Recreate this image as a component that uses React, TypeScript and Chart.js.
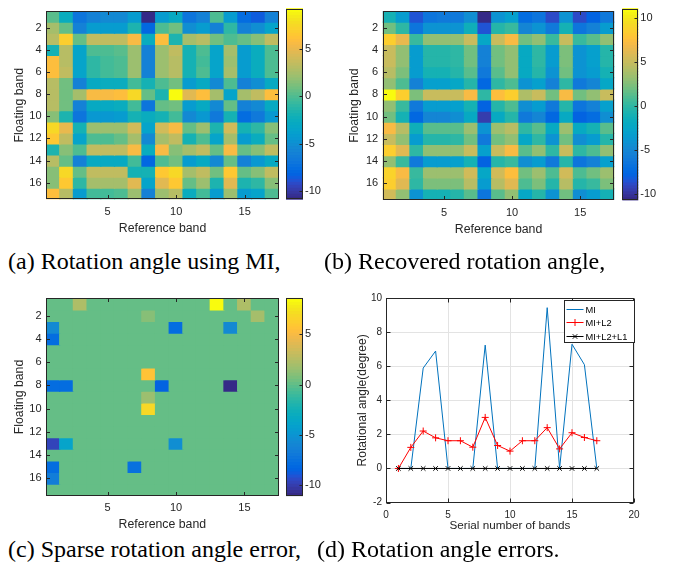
import React, { useEffect, useRef } from 'react';
import { Chart, registerables } from 'chart.js';

Chart.register(...registerables);

// ---------------- data ----------------
const BANDS = [1, 2, 3, 4, 5, 6, 7, 8, 9, 10, 11, 12, 13, 14, 15, 16, 17];
const HEAT_X_TICKS = [5, 10, 15];
const HEAT_Y_TICKS = [2, 4, 6, 8, 10, 12, 14, 16];

const CLIM_A = [-10.87, 9.2];
const CLIM_B = [-10.74, 11.07];
const CLIM_C = [-11.06, 8.58];
const CB_TICKS_A = [-10, -5, 0, 5];
const CB_TICKS_B = [-10, -5, 0, 5, 10];
const CB_TICKS_C = [-10, -5, 0, 5];

// (a) rotation angle using MI  (rows = floating band, cols = reference band)
const MI_ANGLE = [
  [0.4, -2.6, -7, -6, -5.5, -5.5, -4, -10.8, -4, -3, -7, -6, 0, -4, -7.5, -8.5, -6],
  [2.5, 0.5, -6, -4, -4, -4, -1.5, -8, 0, 1, -5, -4, -6, -1, -6, -5, -3.5],
  [3, 7, 0.5, 3.5, 3.5, 3.5, 5.5, -2.5, 6, -1.5, 2.5, 3, 1, 0, 0.5, 1.5, 3.5],
  [-2, 3, -3.5, 0, 0, 0.2, 2, -6, 2, 3.5, -2, 0, -3.5, 2.5, -4, -2.5, 0],
  [6, 3, -3.5, -1, -0.5, 0, 2, -6, 2, 3, -2, -0.5, -3.5, 2, -4, -2.5, 0],
  [6, 3.5, -3.5, -1, -0.5, 0, 2, -6, 2, 3, -2, 0, -3.5, 2.5, -4, -2.5, 0],
  [3, 1, -6, -3, -2.5, -2.5, -0.5, -2, 0, 1, -4, -3, -5.5, 0, -6, -5, -3],
  [3, 1, 2.5, 5.5, 5.5, 6, 7.5, 0.5, -1.5, 9.2, 4.5, 6, 2.5, -3.5, 2.5, 3.5, 6],
  [3, 1, -6, -3, -3, -2.5, -0.5, -7, 0.5, 1, -4, -3, -5.5, 0.5, -6, -5.5, -3],
  [1.5, -1.5, -7, -4.5, -4.5, -4, -2, -2.5, -2, -0.5, -5.5, -4.5, -6.5, -2, -7.5, -6.5, -4.5],
  [7.5, 5, -2, 2, 2, 2, 4, -3.5, 4, 5.5, 0.5, 2, -1.5, 4, -2, -1, 1.5],
  [6.5, 3.5, -3.5, 0, 0, 0.5, 2.5, -5.5, 2.5, 3.5, -2, 0, -3.5, 2.5, -4, -2.5, 0.5],
  [-1.5, 1.5, 0, 3.5, 3.5, 3.5, 5.5, -2.5, 5.5, 1.5, 2.5, 3.5, 0.5, 5.5, 0.5, 1.5, 3.5],
  [3, 0.5, -6, -3, -3, -3, -0.5, -8, 0, 1, -4, -3, -5.5, 0.5, -6, -4.5, -3],
  [1.5, 7.5, 0.5, 3.5, 3.5, 3.5, -2, -2, 6.5, 7.5, 2.5, 3.5, 1, 6.5, 0.5, 1.5, 3.5],
  [1.5, 6.5, -1, 2.5, 2.5, 2.5, 4.5, -3.5, 4.5, 6.5, 0.5, 2, -1.5, 4.5, -1.5, -1, 1.5],
  [6, 3, -4, -0.5, -0.5, 0, 2, -6, 2, 3, -2.5, -0.5, -4, 2, -4, -3.5, 0],
];

// (b) recovered rotation angle
const RECOVERED_ANGLE = [
  [-1, -3.5, -8.5, -6.5, -6, -6, -4.5, -10.8, -4, -3, -7, -6.5, -9, -4, -9, -8, -6],
  [2, 0, -6.5, -4, -4, -4, -1.5, -8.5, -0.5, 0.5, -5, -4, -6, -1, -6.5, -5.5, -3.5],
  [8.5, 6.5, 0.5, 3, 3, 3, 5, -2.5, 5, 7, 2, 3, 0.5, 5, 0.5, 1.5, 3],
  [5, 3, -3.5, -0.5, -0.5, 0, 2, -5.5, 2, 3, -2, 0, -3.5, 2.5, -4, -3, -0.5],
  [5, 3, -3.5, -0.5, -0.5, 0, 2, -5.5, 2, 3, -2, 0, -3.5, 2.5, -4, -3, -0.5],
  [4.5, 2.5, -3.5, -1, -1, -0.5, 1.5, -6, 1.5, 3, -2, -0.5, -4, 2, -4, -3.5, -1],
  [3, 1, -5.5, -3, -3, -2.5, -0.5, -7.5, 0, 1, -4, -3, -5.5, 0, -6, -5, -2.5],
  [11, 8.5, 2.5, 5, 5, 5, 7, 0, 7.5, 8.5, 4, 5, 2, 7, 2, 3, 5],
  [3, 0.5, -6, -3.5, -3.5, -3, -1, -8, -0.5, 1, -4.5, -3.5, -6, -0.5, -6.5, -5.5, -3],
  [2, -1, -7.5, -5, -5, -4.5, -2, -9.5, -2, -0.5, -6, -5, -7.5, -2, -8, -7, -4.5],
  [7, 4.5, -1.5, 1.5, 1.5, 1.5, 3.5, -4, 3.5, 4.5, 0, 1.5, -2, 3.5, -2, -1, 1.5],
  [5, 3, -3.5, -0.5, -0.5, 0, 2, -6, 2, 3, -2.5, 0, -4, 2, -4.5, -3.5, -0.5],
  [8.5, 6, 0, 3, 3, 3, 5, -3, 5, 7, 1.5, 3, 0, 5, 0, 1, 3],
  [3, 0.5, -6, -3.5, -3.5, -3, -1, -8, -0.5, 0.5, -4.5, -3.5, -6, -0.5, -6.5, -5.5, -3],
  [9, 7, 0.5, 3.5, 3.5, 3.5, 5.5, -2.5, 5.5, 7.5, 2, 3.5, 1, 5.5, 1, 2, 3.5],
  [8.5, 6, 0, 2.5, 2.5, 2.5, 4.5, -3.5, 4.5, 6, 1, 2.5, -0.5, 4.5, -0.5, 0.5, 2.5],
  [5.5, 3, -4, -1, -1, -0.5, 1.5, -6.5, 1.5, 3, -2.5, -0.5, -4, 2, -4.5, -3.5, -1],
];

// (c) sparse rotation angle error
const SPARSE_ERROR = [
  [0, 0, 2.3, 0, 0, 0, 0, 0, 0, 0, 0, 0, 8.5, 0, 2.3, 0, 0],
  [0, 0, 0, 0, 0, 0, 0, 1.2, 0, 0, 0, 0, 0, 0, 0, 2, 0],
  [-5.8, 0, 0, 0, 0, 0, 0, 0, 0, -7.9, 0, 0, 0, -5.6, 0, 0, 0],
  [-7.8, 0, 0, 0, 0, 0, 0, 0, 0, 0, 0, 0, 0, 0, 0, 0, 0],
  [0, 0, 0, 0, 0, 0, 0, 0, 0, 0, 0, 0, 0, 0, 0, 0, 0],
  [0, 0, 0, 0, 0, 0, 0, 0, 0, 0, 0, 0, 0, 0, 0, 0, 0],
  [0, 0, 0, 0, 0, 0, 0, 5.6, 0, 0, 0, 0, 0, 0, 0, 0, 0],
  [-7.8, -7.8, 0, 0, 0, 0, 0, 0, -8.3, 0, 0, 0, 0, -11, 0, 0, 0],
  [0, 0, 0, 0, 0, 0, 0, 1.8, 0, 0, 0, 0, 0, 0, 0, 0, 0],
  [0, 0, 0, 0, 0, 0, 0, 7, 0, 0, 0, 0, 0, 0, 0, 0, 0],
  [0, 0, 0, 0, 0, 0, 0, 0, 0, 0, 0, 0, 0, 0, 0, 0, 0],
  [0, 0, 0, 0, 0, 0, 0, 0, 0, 0, 0, 0, 0, 0, 0, 0, 0],
  [-9.8, -3.7, 0, 0, 0, 0, 0, 0, 0, -5.5, 0, 0, 0, 0, 0, 0, 0],
  [0, 0, 0, 0, 0, 0, 0, 0, 0, 0, 0, 0, 0, 0, 0, 0, 0],
  [-7.8, 0, 0, 0, 0, 0, -7.5, 0, 0, 0, 0, 0, 0, 0, 0, 0, 0],
  [-6.5, 0, 0, 0, 0, 0, 0, 0, 0, 0, 0, 0, 0, 0, 0, 0, 0],
  [0, 0, 0, 0, 0, 0, 0, 0, 0, 0, 0, 0, 0, 0, 0, 0, 0],
];

// (d) rotation angle errors
const SERIAL = [1, 2, 3, 4, 5, 6, 7, 8, 9, 10, 11, 12, 13, 14, 15, 16, 17];
const ERR_MI = [0, 0, 5.9, 6.9, 0, 0, 0, 7.25, 0, 0, 0, 0, 9.45, 0, 7.3, 6.1, 0];
const ERR_MI_L2 = [0, 1.24, 2.2, 1.8, 1.63, 1.63, 1.25, 3.0, 1.35, 1.02, 1.63, 1.63, 2.4, 1.15, 2.1, 1.82, 1.63];
const ERR_MI_L2_L1 = [0, 0, 0, 0, 0, 0, 0, 0, 0, 0, 0, 0, 0, 0, 0, 0, 0];
const D_X_TICKS = [0, 5, 10, 15, 20];
const D_Y_TICKS = [-2, 0, 2, 4, 6, 8, 10];

// ---------------- styles ----------------
const SANS = '"Liberation Sans", Arial, Helvetica, sans-serif';
const SERIF = '"Liberation Serif", "Times New Roman", Times, serif';
const INK = '#262626';

const PARULA = [
  [0.2081, 0.1663, 0.5292], [0.2116, 0.1898, 0.5777], [0.2123, 0.2138, 0.627], [0.2081, 0.2386, 0.6771],
  [0.1959, 0.2645, 0.7279], [0.1707, 0.2919, 0.7792], [0.1253, 0.3242, 0.8303], [0.0591, 0.3598, 0.8683],
  [0.0117, 0.3875, 0.882], [0.006, 0.4086, 0.8828], [0.0165, 0.4266, 0.8786], [0.0329, 0.443, 0.872],
  [0.0498, 0.4586, 0.8641], [0.0629, 0.4737, 0.8554], [0.0723, 0.4887, 0.8467], [0.0779, 0.504, 0.8384],
  [0.0793, 0.52, 0.8312], [0.0749, 0.5375, 0.8263], [0.0641, 0.557, 0.824], [0.0488, 0.5772, 0.8228],
  [0.0343, 0.5966, 0.8199], [0.0265, 0.6137, 0.8135], [0.0239, 0.6287, 0.8038], [0.0231, 0.6418, 0.7913],
  [0.0228, 0.6535, 0.7768], [0.0267, 0.6642, 0.7607], [0.0384, 0.6743, 0.7436], [0.059, 0.6838, 0.7254],
  [0.0843, 0.6928, 0.7062], [0.1133, 0.7015, 0.6859], [0.1453, 0.7098, 0.6646], [0.1801, 0.7177, 0.6424],
  [0.2178, 0.725, 0.6193], [0.2586, 0.7317, 0.5954], [0.3022, 0.7376, 0.5712], [0.3482, 0.7424, 0.5473],
  [0.3953, 0.7459, 0.5244], [0.442, 0.7481, 0.5033], [0.4871, 0.7491, 0.484], [0.53, 0.7491, 0.4661],
  [0.5709, 0.7485, 0.4494], [0.6099, 0.7473, 0.4337], [0.6473, 0.7456, 0.4188], [0.6834, 0.7435, 0.4044],
  [0.7184, 0.7411, 0.3905], [0.7525, 0.7384, 0.3768], [0.7858, 0.7356, 0.3633], [0.8185, 0.7327, 0.3498],
  [0.8507, 0.7299, 0.336], [0.8824, 0.7274, 0.3217], [0.9139, 0.7258, 0.3063], [0.945, 0.7261, 0.2886],
  [0.9739, 0.7314, 0.2666], [0.9938, 0.7455, 0.2403], [0.999, 0.7653, 0.2164], [0.9955, 0.7861, 0.1967],
  [0.988, 0.8066, 0.1794], [0.9789, 0.8271, 0.1633], [0.9697, 0.8481, 0.1475], [0.9626, 0.8705, 0.1309],
  [0.9589, 0.8949, 0.1132], [0.9598, 0.9218, 0.0948], [0.9661, 0.9514, 0.0755], [0.9763, 0.9831, 0.0538],
];

function rgbOf(c: number[]) {
  return `rgb(${Math.round(c[0] * 255)},${Math.round(c[1] * 255)},${Math.round(c[2] * 255)})`;
}
function parulaColor(v: number, lo: number, hi: number) {
  const n = PARULA.length;
  let i = Math.floor(((v - lo) / (hi - lo)) * n);
  if (i < 0) i = 0;
  if (i > n - 1) i = n - 1;
  return rgbOf(PARULA[i]);
}

// ---------------- plugins ----------------
const framePlugin = {
  id: 'frame',
  afterDraw(chart: any, _a: any, opts: any) {
    const { ctx, chartArea: a } = chart;
    const L = opts.len || 3;
    const l = Math.round(a.left) + 0.5, r = Math.round(a.right) - 0.5;
    const t = Math.round(a.top) + 0.5, b = Math.round(a.bottom) - 0.5;
    ctx.save();
    ctx.strokeStyle = INK;
    ctx.lineWidth = 1;
    ctx.beginPath();
    const xs = chart.scales.x;
    if (opts.xTicks && xs) {
      for (const tk of xs.ticks) {
        const p = Math.round(xs.getPixelForValue(tk.value)) + 0.5;
        ctx.moveTo(p, b); ctx.lineTo(p, b - L);
        ctx.moveTo(p, t); ctx.lineTo(p, t + L);
      }
    }
    const ys = chart.scales.y;
    if (opts.yTicks && ys) {
      for (const tk of ys.ticks) {
        const p = Math.round(ys.getPixelForValue(tk.value)) + 0.5;
        if (!opts.rightOnly) { ctx.moveTo(l, p); ctx.lineTo(l + L, p); }
        ctx.moveTo(r, p); ctx.lineTo(r - L, p);
      }
    }
    ctx.stroke();
    ctx.strokeRect(l, t, r - l, b - t);
    ctx.restore();
  },
};

const colorbarPlugin = {
  id: 'colorbar',
  beforeDatasetsDraw(chart: any, _a: any, opts: any) {
    const { ctx, chartArea: a } = chart;
    const ys = chart.scales.y;
    const lo = opts.lo, hi = opts.hi;
    const n = PARULA.length;
    ctx.save();
    for (let k = 0; k < n; k++) {
      const p0 = ys.getPixelForValue(lo + ((hi - lo) * k) / n);
      const p1 = ys.getPixelForValue(lo + ((hi - lo) * (k + 1)) / n);
      ctx.fillStyle = rgbOf(PARULA[k]);
      ctx.fillRect(a.left, Math.min(p0, p1) - 0.4, a.right - a.left, Math.abs(p1 - p0) + 0.8);
    }
    ctx.restore();
  },
};

function drawMarker(ctx: any, style: string, x: number, y: number, r: number) {
  ctx.beginPath();
  if (style === 'cross') {
    ctx.moveTo(x - r, y); ctx.lineTo(x + r, y);
    ctx.moveTo(x, y - r); ctx.lineTo(x, y + r);
  } else {
    const d = r * Math.SQRT1_2;
    ctx.moveTo(x - d, y - d); ctx.lineTo(x + d, y + d);
    ctx.moveTo(x - d, y + d); ctx.lineTo(x + d, y - d);
  }
  ctx.stroke();
}

const boxLegendPlugin = {
  id: 'boxLegend',
  afterDraw(chart: any, _a: any, opts: any) {
    const { ctx, chartArea: a } = chart;
    const w = opts.width, h = opts.height;
    const x0 = Math.round(a.right - w) + 0.5;
    const y0 = Math.round(a.top + opts.dy) + 0.5;
    ctx.save();
    ctx.fillStyle = '#ffffff';
    ctx.fillRect(x0, y0, w, h);
    ctx.strokeStyle = INK;
    ctx.lineWidth = 1;
    ctx.strokeRect(x0, y0, w, h);
    ctx.font = `${opts.fontSize}px ${SANS}`;
    ctx.textBaseline = 'middle';
    ctx.textAlign = 'left';
    chart.data.datasets.forEach((ds: any, i: number) => {
      const cy = Math.round(y0 + opts.rowStart + i * opts.rowGap) + 0.5;
      const lx0 = x0 + 2, lx1 = lx0 + 17;
      ctx.strokeStyle = ds.borderColor;
      ctx.lineWidth = 1;
      ctx.beginPath(); ctx.moveTo(lx0, cy); ctx.lineTo(lx1, cy); ctx.stroke();
      if (ds.pointRadius > 0) drawMarker(ctx, ds.pointStyle, (lx0 + lx1) / 2, cy, ds.pointRadius);
      ctx.fillStyle = '#000000';
      ctx.fillText(ds.label, lx1 + 2, cy + 0.5);
    });
    ctx.restore();
  },
};

// ---------------- chart configs ----------------
type Rect = { x: number; y: number; w: number; h: number };
type Area = { l: number; r: number; t: number; b: number };

function heatmapConfig(matrix: number[][], clim: number[], rect: Rect, area: Area, tune: any) {
  const datasets = matrix.map((row, ri) => ({
    data: row.map((_v, ci) => ({ x: BANDS[ci], y: [BANDS[ri] - 0.5, BANDS[ri] + 0.5] })),
    backgroundColor: row.map((v) => parulaColor(v, clim[0], clim[1])),
    borderWidth: 0,
    grouped: false,
    barPercentage: 1,
    categoryPercentage: 1,
    inflateAmount: 0.6,
  }));
  return {
    type: 'bar',
    data: { datasets },
    plugins: [framePlugin],
    options: {
      responsive: false,
      animation: false,
      events: [],
      layout: { padding: { left: 0, top: area.t, right: rect.w - area.r, bottom: 0 } },
      plugins: {
        legend: { display: false },
        tooltip: { enabled: false },
        frame: { xTicks: true, yTicks: true, len: 3.5 },
      },
      scales: {
        x: {
          type: 'linear', min: 0.5, max: 17.5, offset: false,
          grid: { display: false, drawTicks: false },
          border: { display: false },
          afterBuildTicks: (s: any) => { s.ticks = HEAT_X_TICKS.map((value) => ({ value })); },
          afterFit: (s: any) => { s.height = rect.h - area.b; },
          ticks: { autoSkip: false, maxRotation: 0, padding: tune.xTickPad, color: INK, font: { family: SANS, size: 11 } },
          title: { display: true, text: 'Reference band', color: INK, font: { family: SANS, size: 12.3 }, padding: { top: 0, bottom: tune.xTitlePad } },
        },
        y: {
          type: 'linear', reverse: true, min: 0.5, max: 17.5, offset: false, beginAtZero: false,
          grid: { display: false, drawTicks: false },
          border: { display: false },
          afterBuildTicks: (s: any) => { s.ticks = HEAT_Y_TICKS.map((value) => ({ value })); },
          afterFit: (s: any) => { s.width = area.l; },
          ticks: { autoSkip: false, padding: 4.5, color: INK, font: { family: SANS, size: 11 } },
          title: { display: true, text: 'Floating band', color: INK, font: { family: SANS, size: 12.3 }, padding: { top: 12.6, bottom: 0 } },
        },
      },
    },
  };
}

function colorbarConfig(clim: number[], ticks: number[], rect: Rect, area: Area) {
  return {
    type: 'scatter',
    data: { datasets: [] },
    plugins: [colorbarPlugin, framePlugin],
    options: {
      responsive: false,
      animation: false,
      events: [],
      layout: { padding: { left: area.l, top: area.t, right: 0, bottom: rect.h - area.b } },
      plugins: {
        legend: { display: false },
        tooltip: { enabled: false },
        colorbar: { lo: clim[0], hi: clim[1] },
        frame: { xTicks: false, yTicks: true, rightOnly: true, len: 3 },
      },
      scales: {
        x: { type: 'linear', display: false, min: 0, max: 1 },
        y: {
          type: 'linear', position: 'right', min: clim[0], max: clim[1], beginAtZero: false,
          grid: { display: false, drawTicks: false },
          border: { display: false },
          afterBuildTicks: (s: any) => { s.ticks = ticks.map((value) => ({ value })); },
          afterFit: (s: any) => { s.width = rect.w - area.r; },
          ticks: { autoSkip: false, padding: 2, color: INK, font: { family: SANS, size: 11 } },
        },
      },
    },
  };
}

function errorsConfig(rect: Rect, area: Area) {
  const pts = (ys: number[]) => SERIAL.map((x, i) => ({ x, y: ys[i] }));
  return {
    type: 'line',
    data: {
      datasets: [
        { label: 'MI', data: pts(ERR_MI), borderColor: '#0072BD', borderWidth: 1, pointRadius: 0, pointStyle: 'circle', tension: 0, order: 2 },
        { label: 'MI+L2', data: pts(ERR_MI_L2), borderColor: '#FF0000', borderWidth: 1, pointRadius: 3.5, pointStyle: 'cross', pointBorderColor: '#FF0000', pointBorderWidth: 1, tension: 0, order: 1 },
        { label: 'MI+L2+L1', data: pts(ERR_MI_L2_L1), borderColor: '#000000', borderWidth: 1, pointRadius: 3.2, pointStyle: 'crossRot', pointBorderColor: '#000000', pointBorderWidth: 1, tension: 0, order: 0 },
      ],
    },
    plugins: [framePlugin, boxLegendPlugin],
    options: {
      responsive: false,
      animation: false,
      events: [],
      layout: { padding: { left: 0, top: area.t, right: rect.w - area.r, bottom: 0 } },
      plugins: {
        legend: { display: false },
        tooltip: { enabled: false },
        frame: { xTicks: true, yTicks: true, len: 4 },
        boxLegend: { width: 70, height: 42, dy: 2, rowStart: 8, rowGap: 13.5, fontSize: 9.3 },
      },
      scales: {
        x: {
          type: 'linear', min: 0, max: 20,
          grid: { color: '#e3e3e3', drawTicks: false },
          border: { display: false },
          afterBuildTicks: (s: any) => { s.ticks = D_X_TICKS.map((value) => ({ value })); },
          afterFit: (s: any) => { s.height = rect.h - area.b; },
          ticks: { autoSkip: false, maxRotation: 0, padding: 6.5, color: INK, font: { family: SANS, size: 10 } },
          title: { display: true, text: 'Serial number of bands', color: INK, font: { family: SANS, size: 11.7 }, padding: { top: 0, bottom: 2.5 } },
        },
        y: {
          type: 'linear', min: -2, max: 10, beginAtZero: false,
          grid: { color: '#e3e3e3', drawTicks: false },
          border: { display: false },
          afterBuildTicks: (s: any) => { s.ticks = D_Y_TICKS.map((value) => ({ value })); },
          afterFit: (s: any) => { s.width = area.l; },
          ticks: { autoSkip: false, padding: 4, color: INK, font: { family: SANS, size: 10 } },
          title: { display: true, text: 'Rotational angle(degree)', color: INK, font: { family: SANS, size: 12 }, padding: { top: 20.8, bottom: 0 } },
        },
      },
    },
  };
}

// ---------------- components ----------------
function ChartBox({ rect, make }: { rect: Rect; make: () => any }) {
  const ref = useRef<HTMLCanvasElement>(null);
  useEffect(() => {
    const chart = new Chart(ref.current as HTMLCanvasElement, make());
    return () => chart.destroy();
  }, []);
  return (
    <canvas
      ref={ref}
      width={rect.w}
      height={rect.h}
      style={{ position: 'absolute', left: rect.x, top: rect.y, width: rect.w, height: rect.h }}
    />
  );
}

function Caption({ x, y, text }: { x: number; y: number; text: string }) {
  return (
    <div
      style={{
        position: 'absolute', left: x, top: y, fontFamily: SERIF, fontSize: 24,
        lineHeight: '24px', whiteSpace: 'nowrap', color: '#000',
      }}
    >
      {text}
    </div>
  );
}

const RECT_A: Rect = { x: 0, y: 0, w: 285, h: 240 };
const AREA_A: Area = { l: 46, r: 279, t: 2, b: 199.3 };
const RECT_CB_A: Rect = { x: 280, y: 0, w: 55, h: 240 };
const AREA_CB_A: Area = { l: 6, r: 23, t: 2, b: 199.3 };

const RECT_B: Rect = { x: 335, y: 0, w: 285, h: 240 };
const AREA_B: Area = { l: 47.7, r: 279.3, t: 2, b: 200 };
const RECT_CB_B: Rect = { x: 615, y: 0, w: 60, h: 240 };
const AREA_CB_B: Area = { l: 7.3, r: 23.3, t: 2, b: 200 };

const RECT_C: Rect = { x: 0, y: 285, w: 285, h: 250 };
const AREA_C: Area = { l: 46, r: 278.7, t: 13.3, b: 210.7 };
const RECT_CB_C: Rect = { x: 280, y: 285, w: 55, h: 250 };
const AREA_CB_C: Area = { l: 6, r: 23, t: 13.3, b: 210.7 };

const RECT_D: Rect = { x: 335, y: 285, w: 340, h: 250 };
const AREA_D: Area = { l: 51, r: 299, t: 13.3, b: 217.5 };

export default function App() {
  return (
    <div style={{ position: 'absolute', left: 0, top: 0, width: 675, height: 573, background: '#fff', overflow: 'hidden' }}>
      <ChartBox rect={RECT_A} make={() => heatmapConfig(MI_ANGLE, CLIM_A, RECT_A, AREA_A, { xTickPad: 6.5, xTitlePad: 3.6 })} />
      <ChartBox rect={RECT_CB_A} make={() => colorbarConfig(CLIM_A, CB_TICKS_A, RECT_CB_A, AREA_CB_A)} />
      <ChartBox rect={RECT_B} make={() => heatmapConfig(RECOVERED_ANGLE, CLIM_B, RECT_B, AREA_B, { xTickPad: 6.5, xTitlePad: 2.6 })} />
      <ChartBox rect={RECT_CB_B} make={() => colorbarConfig(CLIM_B, CB_TICKS_B, RECT_CB_B, AREA_CB_B)} />
      <ChartBox rect={RECT_C} make={() => heatmapConfig(SPARSE_ERROR, CLIM_C, RECT_C, AREA_C, { xTickPad: 5.5, xTitlePad: 2.6 })} />
      <ChartBox rect={RECT_CB_C} make={() => colorbarConfig(CLIM_C, CB_TICKS_C, RECT_CB_C, AREA_CB_C)} />
      <ChartBox rect={RECT_D} make={() => errorsConfig(RECT_D, AREA_D)} />
      <Caption x={8} y={249} text="(a) Rotation angle using MI," />
      <Caption x={324} y={249} text="(b) Recovered rotation angle," />
      <Caption x={8} y={537} text="(c) Sparse rotation angle error," />
      <Caption x={317} y={537} text="(d) Rotation angle errors." />
    </div>
  );
}
